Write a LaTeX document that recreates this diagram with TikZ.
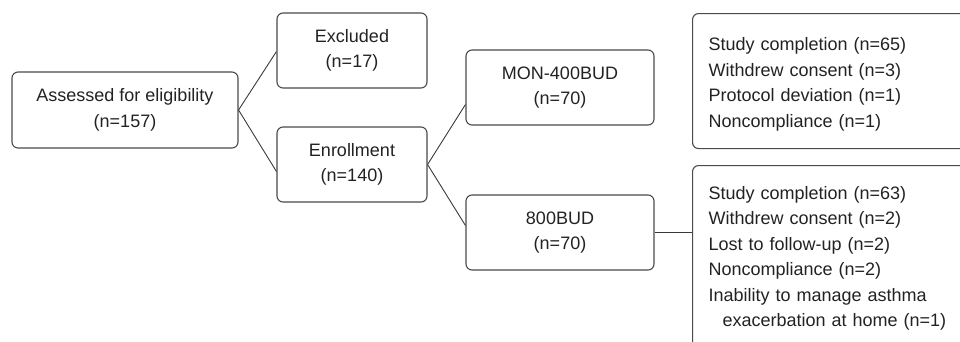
\documentclass[tikz,border=0pt]{standalone}
\usepackage{fontspec}
\setmainfont{Liberation Sans}
\usetikzlibrary{calc}
\definecolor{boxline}{HTML}{4A4A4A}
\definecolor{conn}{HTML}{3A3A3A}
\definecolor{txt}{HTML}{222222}
\begin{document}
\begin{tikzpicture}[x=1pt,y=-1pt,
  box/.style={draw=boxline, line width=1.1pt, rounded corners=6pt, align=center,
    inner sep=0pt, text=txt, font=\fontsize{18}{25.5}\selectfont},
  smallbox/.style={box, minimum width=150pt, minimum height=75pt},
  armbox/.style={box, minimum width=188pt, minimum height=75pt},
  listbox/.style={box, align=left, anchor=north west, inner xsep=16pt,
    inner ysep=0pt, text width=258pt},
  link/.style={draw=conn, line width=0.9pt}]
\useasboundingbox (0,0) rectangle (960,341);
\clip (0,0) rectangle (960,341);
\node[box, minimum width=226pt, minimum height=76pt] (assess) at (125,110)
  {Assessed for eligibility\\(n=157)};
\node[smallbox] (excl) at (352,50.5) {Excluded\\(n=17)};
\node[smallbox] (enr) at (352,164.5) {Enrollment\\(n=140)};
\node[armbox] (mon) at (560,87.5) {MON-400BUD\\(n=70)};
\node[armbox] (bud) at (560,232.5) {800BUD\\(n=70)};
\node[listbox, minimum height=135pt] (rt) at (692,13)
  {\rule{0pt}{20pt}Study completion (n=65)\\Withdrew consent (n=3)\\Protocol deviation (n=1)\\Noncompliance (n=1)};
\node[listbox, minimum height=186pt] (rb) at (692,165)
  {Study completion (n=63)\\Withdrew consent (n=2)\\Lost to follow-up (n=2)\\Noncompliance (n=2)\\Inability to manage asthma\\\hspace*{14pt}exacerbation at home (n=1)};
\draw[link] (assess.east) -- ([yshift=-1pt]excl.west);
\draw[link] (assess.east) -- ([yshift=-7pt]enr.west);
\draw[link] (enr.east) -- ([yshift=-17pt]mon.west);
\draw[link] (enr.east) -- ([yshift=7pt]bud.west);
\draw[link] (bud.east) -- (bud.east -| rb.west);
\end{tikzpicture}
\end{document}
